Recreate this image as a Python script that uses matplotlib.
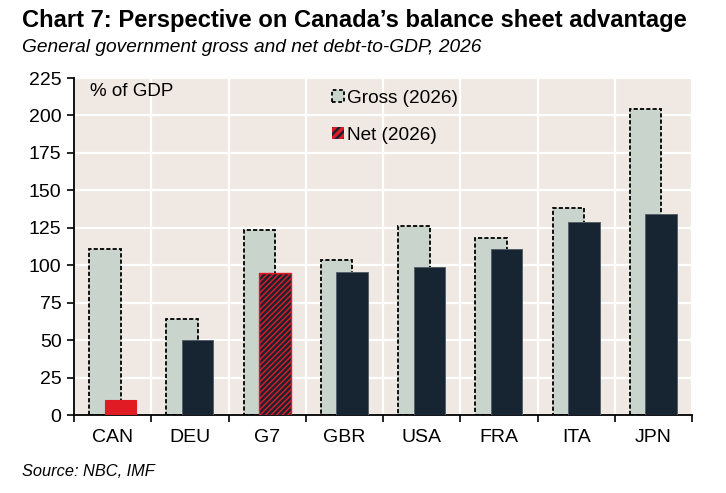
import matplotlib.pyplot as plt
from matplotlib.patches import Patch
import numpy as np

plt.rcParams['font.family'] = ['Liberation Sans', 'DejaVu Sans']
plt.rcParams['hatch.linewidth'] = 1.8

# Chart data
countries = ["CAN", "DEU", "G7", "GBR", "USA", "FRA", "ITA", "JPN"]
gross = [111, 64, 123.5, 103.5, 126, 118.5, 138.5, 204.5]
net = [10, 50, 94.5, 95.5, 98.5, 110.5, 129, 134]
y_ticks = [0, 25, 50, 75, 100, 125, 150, 175, 200, 225]

gross_color = "#C9D4CC"
net_color = "#172431"
red = "#E01B24"
bg = "#F0E9E3"

fig = plt.figure(figsize=(7.26, 4.93), dpi=100)
ax = fig.add_axes([74 / 726, 1 - 415 / 493, 618 / 726, 337 / 493])
ax.set_facecolor(bg)

x = np.arange(len(countries))
w = 0.41
off = 0.1

# Gross bars, dashed outline
ax.bar(x - off, gross, w, color=gross_color, edgecolor="black",
       linestyle=(0, (2.3, 1.2)), linewidth=1.3, zorder=2)

# Net bars
for i, v in enumerate(net):
    if countries[i] == "CAN":
        ax.bar(x[i] + off, v, w, color=red, edgecolor=red, linewidth=0.8, zorder=3)
    elif countries[i] == "G7":
        ax.bar(x[i] + off, v, w, color=red, edgecolor="#1B2330",
               hatch="//////", linewidth=0, zorder=3)
        ax.bar(x[i] + off, v, w, fill=False, edgecolor=red, linewidth=1.0, zorder=4)
    else:
        ax.bar(x[i] + off, v, w, color=net_color, edgecolor="#56606A",
               linewidth=0.7, zorder=3)

# Axes styling
ax.set_xlim(-0.5, len(countries) - 0.5)
ax.set_ylim(0, 225)
ax.set_yticks(y_ticks)
ax.set_xticks(np.arange(len(countries) + 1) - 0.5)
ax.set_xticklabels([])
ax.set_xticks(x, minor=True)
ax.set_xticklabels(countries, minor=True, fontsize=14)
ax.tick_params(axis="x", which="minor", length=0, pad=10)
ax.tick_params(axis="x", which="major", length=5, width=1.2, direction="out")
ax.tick_params(axis="y", length=5, width=1.2, labelsize=14, pad=4)

ax.grid(True, which="major", color="white", linewidth=1.6, zorder=0)
ax.set_axisbelow(True)
for s in ["top", "right"]:
    ax.spines[s].set_visible(False)
for s in ["left", "bottom"]:
    ax.spines[s].set_linewidth(1.3)
    ax.spines[s].set_color("black")

ax.text(0.026, 0.985, "% of GDP", transform=ax.transAxes, fontsize=13.5,
        va="top", ha="left")

# Legend
handles = [
    Patch(facecolor=gross_color, edgecolor="black", linestyle=(0, (2, 1.5)),
          linewidth=1.3, label="Gross (2026)"),
    Patch(facecolor=red, edgecolor="#1B2330", hatch="////", linewidth=0,
          label="Net (2026)"),
]
ax.legend(handles=handles, loc="upper left", bbox_to_anchor=(0.39, 1.015),
          frameon=False, fontsize=13.7, handlelength=0.6, handleheight=0.6,
          handletextpad=0.2, labelspacing=1.05)

# Titles and source
fig.text(22 / 726, 1 - 20 / 493, "Chart 7: Perspective on Canada\u2019s balance sheet advantage",
         fontsize=17.1, fontweight="bold", va="center", ha="left")
fig.text(22 / 726, 1 - 48 / 493, "General government gross and net debt-to-GDP, 2026",
         fontsize=13.8, style="italic", va="center", ha="left")
fig.text(22 / 726, 1 - 472 / 493, "Source: NBC, IMF",
         fontsize=11.8, style="italic", va="center", ha="left")

fig.savefig("out.png", dpi=100, facecolor="white")
